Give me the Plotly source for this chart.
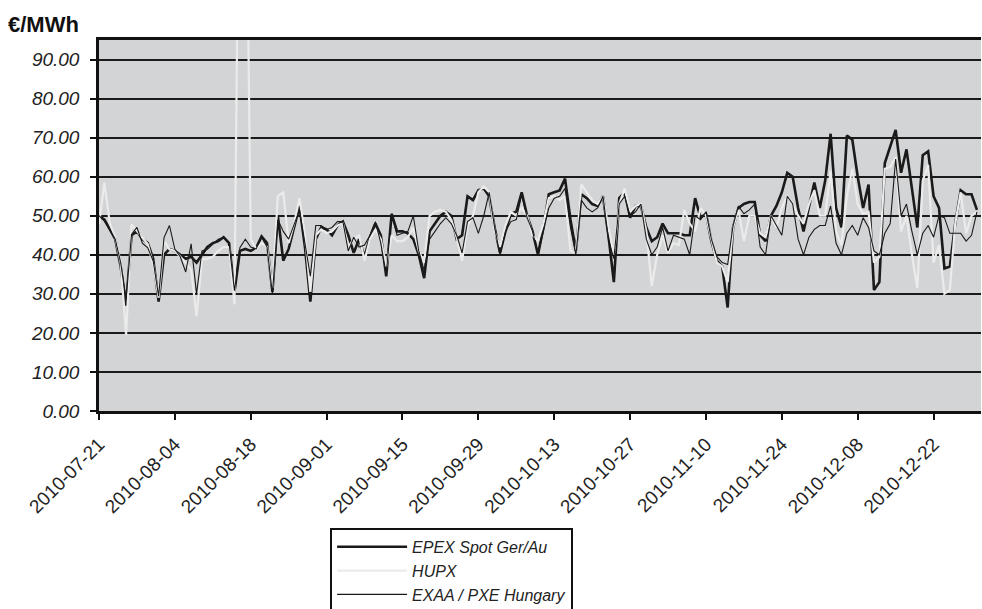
import pandas as pd
import plotly.graph_objects as go

start_date = "2010-07-21"
n_days = 163
dates = pd.date_range(start_date, periods=n_days, freq="D")

epex = [50, 49, 46.5, 44, 37, 27, 45, 46, 44, 43, 39, 28, 40, 41.5, 41, 40, 39, 39.5, 38, 40,
        42, 43, 43.5, 44.5, 43, 30.5, 41, 41.5, 41,
        41.8, 44.7, 43, 30.5, 50, 38.5, 41.5, 47, 52.5, 42, 28, 44, 47, 46.5, 45, 47.5, 48.5, 45,
        40.5, 44, 39.5, 44.5, 48, 45, 34.5, 50.5, 46, 46,
        45.5, 44, 40, 34, 46, 48, 50, 51, 50, 44, 45, 55, 54, 56.5, 57, 55, 47, 40.5, 46, 50.5,
        51, 56, 50, 46, 40, 47,
        55.5, 56, 56.5, 59.5, 49, 41, 55.5, 54.5, 53, 52.5, 55, 45, 33, 54.5, 56, 49.5, 52.5, 52.5,
        47, 43.5, 44.5, 48, 45.5, 45.5, 45.5, 45, 45, 54.5, 49.5,
        50.5, 43.5, 38.5, 37, 26.5, 47, 52, 53, 53.5, 53.5, 45, 43.5, 50, 52.5, 56, 61, 60, 52, 46,
        52, 58.5, 52, 59, 71, 52, 47,
        70.5, 69.5, 60, 52, 58, 31, 33, 63.5, 67.5, 72, 61, 67, 57, 47, 65.5, 66.5, 55, 52, 36.5,
        37, 48, 56.5, 55.5, 55.5, 51.5]

hupx = [47.8, 58.5, 48, 44.4, 38, 19.5, 47.8, 46, 44.4, 42.7, 37.5, 29, 43.6, 41.4, 41, 39.6, 38,
        36.2, 24.3, 38.8, 39, 39.5, 41, 42, 42, 27.3, 170, 160, 44,
        41.5, 43, 42, 31.5, 55, 56, 43, 48, 54.5, 45, 30.5, 45, 46.5, 45.5, 46, 47.5, 48, 42, 44,
        45, 38.5, 44, 46.5, 44, 37, 45, 43.5, 43.5,
        44.5, 47, 41, 38, 50, 51, 51.5, 51, 49, 44.5, 38.5, 47.5, 50, 56, 57.5, 56, 46, 42, 47.5,
        51, 50, 52, 50, 45, 43.5, 48,
        54.5, 55, 54, 55, 41, 40.5, 58, 56, 54, 53, 55, 47, 40, 53, 57, 51, 52.5, 53, 46, 32, 40,
        45, 40.5, 43, 42.5, 51.5, 48, 46, 52,
        50, 44, 38, 37, 33, 47, 51.5, 43.5, 50, 50, 45.5, 44.5, 50, 47, 52, 55, 53, 50, 48, 53,
        56.5, 50, 50, 61.5, 46, 42.5,
        55, 62, 53, 50.5, 51, 38, 39.5, 62, 62.5, 65, 46, 50, 40, 31.5, 59, 63, 38, 42.5, 30, 31,
        48, 56, 45.5, 50, 51]

exaa = [50, 48.6, 46.5, 44, 38, 28.5, 45.2, 47, 43, 41.8, 38.4, 29.4, 44.4, 47.5, 41.4, 39.5,
        35.6, 42.8, 30, 41, 41.4, 42.8, 44, 44.4, 43, 30.8, 41.8, 44, 42,
        41.5, 44.5, 42, 30, 49, 46, 44, 48, 51.5, 43, 34.5, 47.5, 47.5, 46.5, 47, 48.5, 48.5, 41,
        44.5, 42, 42.5, 45, 48.5, 43, 35, 50.5, 45, 45.5,
        46, 50, 41, 36, 44, 46, 48, 49.5, 48, 45, 40.5, 48.5, 49.5, 45.5, 50, 56, 47, 40, 46,
        48.5, 49, 55.5, 49.5, 46, 40, 46,
        52, 54.5, 55, 57, 47, 40, 54, 52, 51, 52, 55, 44, 39, 53, 55, 50, 51, 53, 44, 40, 42, 47,
        41, 45, 44.5, 44, 40, 50, 49,
        51, 44, 39.5, 38, 37.5, 47.5, 52.5, 50.5, 51.5, 53, 42, 40, 50, 47.5, 45, 55, 53, 44, 40,
        44.5, 46.5, 47.5, 47.5, 52.5, 43, 40,
        45.5, 47.5, 45, 49.5, 47, 41, 40, 45.5, 48, 64.5, 50, 53, 46, 40, 45.5, 47.5, 44.5, 50,
        49.5, 45.5, 45.5, 45.5, 43.5, 45, 51]

series_names = ["EPEX Spot Ger/Au", "HUPX", "EXAA / PXE Hungary"]
y_ticks = [0, 10, 20, 30, 40, 50, 60, 70, 80, 90]

fig = go.Figure()
fig.add_trace(go.Scatter(x=dates, y=epex, name=series_names[0], mode="lines",
                         line=dict(color="#1a1a1a", width=2.6)))
fig.add_trace(go.Scatter(x=dates, y=hupx, name=series_names[1], mode="lines",
                         line=dict(color="#ebebeb", width=2.2)))
fig.add_trace(go.Scatter(x=dates, y=exaa, name=series_names[2], mode="lines",
                         line=dict(color="#1a1a1a", width=1.1)))

fig.update_layout(
    width=982, height=609,
    margin=dict(l=99, r=1, t=40, b=198, autoexpand=False),
    plot_bgcolor="#d3d4d6", paper_bgcolor="white",
    font=dict(family="Liberation Sans, Arial, sans-serif", size=16, color="#222222"),
    showlegend=True,
    legend=dict(x=0.262, y=-0.315, xanchor="left", yanchor="top",
                bgcolor="white", bordercolor="#111111", borderwidth=2,
                font=dict(size=16, style="italic", color="#222222"),
                itemwidth=70, tracegroupgap=0),
    annotations=[dict(text="<b>€/MWh</b>", xref="paper", yref="paper", x=-0.106, y=1.004,
                      xanchor="left", yanchor="bottom", showarrow=False,
                      font=dict(size=22, color="#111111"))],
)

fig.update_yaxes(range=[0, 95], tickvals=y_ticks, tickformat=".2f",
                 showgrid=True, gridcolor="#1a1a1a", gridwidth=2,
                 zeroline=False, showline=True, linecolor="#111111", linewidth=2.5,
                 ticks="outside", ticklen=6, tickwidth=2, tickcolor="#111111",
                 ticklabelstandoff=7,
                 tickfont=dict(size=19, style="italic"))
fig.update_xaxes(type="date", range=["2010-07-21", "2010-12-30 18:00"],
                 tick0="2010-07-21", dtick=14 * 86400000, tickformat="%Y-%m-%d",
                 tickangle=-45, showgrid=False, zeroline=False,
                 showline=True, linecolor="#111111", linewidth=2.5, mirror=True,
                 ticks="outside", ticklen=6, tickwidth=2, tickcolor="#111111",
                 ticklabelstandoff=6,
                 tickfont=dict(size=19))

fig.write_html("out.html", config={"displayModeBar": False},
               post_script="document.body.style.margin='0';document.body.style.overflow='hidden';")
